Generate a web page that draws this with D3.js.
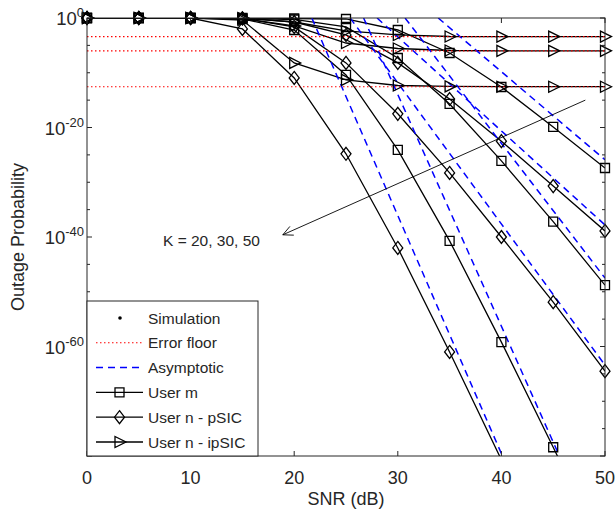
<!DOCTYPE html>
<html>
<head>
<meta charset="utf-8">
<script src="https://cdn.jsdelivr.net/npm/d3@7"></script>
<style>
body { margin: 0; background: #fff; }
text { font-family: "Liberation Sans", Arial, sans-serif; fill: #262626; }
</style>
</head>
<body>
<svg id="svg" width="616" height="517"></svg>
<script>
// SNR points (dB)
const snr = [0, 5, 10, 15, 20, 25, 30, 35, 40, 45, 50];

// log10 of outage probability (K = 20, 30, 50)
const userM_K20 = [0, 0, 0, 0, -0.09, -0.18, -2.19, -6.39, -12.6, -19.9, -27.4];
const userM_K30 = [0, 0, 0, -0.09, -0.27, -1.64, -7.31, -15.7, -26.1, -37.2, -48.8];
const userM_K50 = [0, 0, 0, -0.18, -2.19, -10.4, -24.1, -40.7, -59.2, -78.4, -98];
const pSIC_K20 = [0, 0, 0, -0.05, -0.73, -3.1, -8.2, -14.8, -22.5, -30.7, -38.9];
const pSIC_K30 = [0, 0, 0, -0.09, -1.64, -8.2, -17.5, -28.3, -40.0, -51.9, -64.5];
const pSIC_K50 = [0, 0, 0, -2.0, -10.95, -24.8, -42.0, -61.0, -80.7];
const ipSIC_K20 = [0, 0, 0, 0, -0.73, -2.37, -3.1, -3.38, -3.4, -3.4, -3.4];
const ipSIC_K30 = [0, 0, 0, -0.09, -1.46, -4.57, -5.57, -5.94, -6.0, -6.0, -6.0];
const ipSIC_K50 = [0, 0, 0, -0.37, -8.2, -11.3, -12.33, -12.5, -12.55, -12.55, -12.55];

// error floors (log10)
const floors = [-3.4, -6.0, -12.55];

// asymptotic lines, end points [snr, log10 P]
const asymM = [[[33.9, 0], [50, -25.9]], [[30.7, 0], [50, -47.5]], [[26.7, 0], [45.6, -80]]];
const asymP = [[[28.0, 0], [50, -37.8]], [[25.4, 0], [50, -63.4]], [[21.7, 0], [40.1, -80]]];

const xTicks = [0, 10, 20, 30, 40, 50];
const yTickExp = [0, -20, -40, -60];
const legendLabels = ["Simulation", "Error floor", "Asymptotic", "User m", "User n - pSIC", "User n - ipSIC"];

// arrow annotation (snr, log10 P)
const arrowFrom = [48.1, -15.0];
const arrowTo = [18.9, -39.6];
const annText = "K = 20, 30, 50";

let svg = d3.select("#svg");
const L = 87, T = 18, W = 518, H = 438;

let x = d3.scaleLinear().domain([0, 50]).range([L, L + W]);
let y = d3.scaleLog().domain([1e-80, 1]).range([T + H, T]);
const P = e => Math.pow(10, e);

svg.append("defs").append("clipPath").attr("id", "clip")
  .append("rect").attr("x", L).attr("y", T).attr("width", W).attr("height", H);

let plot = svg.append("g").attr("clip-path", "url(#clip)");

let line = d3.line().x(d => x(d[0])).y(d => y(P(d[1])));

// black curves
const curves = [
  { v: userM_K20, m: "square" }, { v: userM_K30, m: "square" }, { v: userM_K50, m: "square" },
  { v: pSIC_K20, m: "diamond" }, { v: pSIC_K30, m: "diamond" }, { v: pSIC_K50, m: "diamond" },
  { v: ipSIC_K20, m: "tri" }, { v: ipSIC_K30, m: "tri" }, { v: ipSIC_K50, m: "tri" }
];

curves.forEach(c => {
  let pts = c.v.map((e, i) => [snr[i], e]);
  plot.append("path").attr("d", line(pts)).attr("fill", "none")
    .attr("stroke", "#000").attr("stroke-width", 1.3);
});

// blue asymptotes
asymM.concat(asymP).forEach(a => {
  plot.append("path").attr("d", line(a)).attr("fill", "none")
    .attr("stroke", "#0000ff").attr("stroke-width", 1.5).attr("stroke-dasharray", "7,5");
});

// red error floors
floors.forEach(f => {
  plot.append("path").attr("d", line([[0, f], [50, f]])).attr("fill", "none")
    .attr("stroke", "#ff0000").attr("stroke-width", 1.1).attr("stroke-dasharray", "1.5,2.5");
});

function marker(g, type, cx, cy) {
  let p;
  if (type === "square") {
    p = `M${cx - 4.5},${cy - 4.5}h9v9h-9Z`;
  } else if (type === "diamond") {
    p = `M${cx},${cy - 6.5}L${cx + 5},${cy}L${cx},${cy + 6.5}L${cx - 5},${cy}Z`;
  } else {
    p = `M${cx - 4.5},${cy - 5.5}L${cx + 6.5},${cy}L${cx - 4.5},${cy + 5.5}Z`;
  }
  g.append("path").attr("d", p).attr("fill", "none").attr("stroke", "#000").attr("stroke-width", 1.3);
}

let mk = svg.append("g");
curves.forEach(c => {
  c.v.forEach((e, i) => {
    if (e >= -80) marker(mk, c.m, x(snr[i]), y(P(e)));
  });
});

// axes box and ticks
let ax = svg.append("g").attr("stroke", "#262626").attr("stroke-width", 1);
ax.append("rect").attr("x", L).attr("y", T).attr("width", W).attr("height", H).attr("fill", "none");
xTicks.forEach(t => {
  ax.append("line").attr("x1", x(t)).attr("x2", x(t)).attr("y1", T + H).attr("y2", T + H - 5);
  ax.append("line").attr("x1", x(t)).attr("x2", x(t)).attr("y1", T).attr("y2", T + 5);
});
for (let e = 0; e >= -80; e -= 5) {
  let len = (e % 20 === 0) ? 5 : 3;
  ax.append("line").attr("x1", L).attr("x2", L + len).attr("y1", y(P(e))).attr("y2", y(P(e)));
  ax.append("line").attr("x1", L + W).attr("x2", L + W - len).attr("y1", y(P(e))).attr("y2", y(P(e)));
}

// tick labels
xTicks.forEach(t => {
  svg.append("text").attr("x", x(t)).attr("y", 484).attr("text-anchor", "middle")
    .style("font-size", "18px").text(t);
});
yTickExp.forEach(e => {
  let tx = svg.append("text").attr("x", 84).attr("y", y(P(e)) + 7).attr("text-anchor", "end")
    .style("font-size", "18.5px");
  tx.append("tspan").text("10");
  tx.append("tspan").attr("dy", -8).style("font-size", "13px").text(e);
});

// axis labels
svg.append("text").attr("x", L + W / 2).attr("y", 505).attr("text-anchor", "middle")
  .style("font-size", "18px").text("SNR (dB)");
svg.append("text").attr("transform", `translate(24,${T + H / 2}) rotate(-90)`)
  .attr("text-anchor", "middle").style("font-size", "18px").text("Outage Probability");

// arrow annotation
let ar = svg.append("g").attr("stroke", "#000").attr("stroke-width", 0.9).attr("fill", "none");
let x1 = x(arrowFrom[0]), y1 = y(P(arrowFrom[1])), x2 = x(arrowTo[0]), y2 = y(P(arrowTo[1]));
ar.append("line").attr("x1", x1).attr("y1", y1).attr("x2", x2).attr("y2", y2);
let ang = Math.atan2(y1 - y2, x1 - x2);
[0.45, -0.45].forEach(da => {
  ar.append("line").attr("x1", x2).attr("y1", y2)
    .attr("x2", x2 + 11 * Math.cos(ang + da)).attr("y2", y2 + 11 * Math.sin(ang + da));
});
svg.append("text").attr("x", 163).attr("y", 246).style("font-size", "15.5px").text(annText);

// legend
let lg = svg.append("g");
lg.append("rect").attr("x", L).attr("y", 301).attr("width", 171).attr("height", T + H - 301)
  .attr("fill", "#fff").attr("stroke", "#262626").attr("stroke-width", 1);
legendLabels.forEach((lab, i) => {
  let cy = 318 + i * 24.8;
  if (i === 0) {
    lg.append("circle").attr("cx", 120).attr("cy", cy).attr("r", 1.8).attr("fill", "#000");
  } else {
    let s = lg.append("line").attr("x1", 96).attr("x2", 143).attr("y1", cy).attr("y2", cy).attr("fill", "none");
    if (i === 1) s.attr("stroke", "#ff0000").attr("stroke-width", 1.1).attr("stroke-dasharray", "1.5,2.5");
    else if (i === 2) s.attr("stroke", "#0000ff").attr("stroke-width", 1.5).attr("stroke-dasharray", "7,5");
    else s.attr("stroke", "#000").attr("stroke-width", 1.3);
    if (i >= 3) marker(lg, ["square", "diamond", "tri"][i - 3], 119.5, cy);
  }
  lg.append("text").attr("x", 148).attr("y", cy + 5.5).style("font-size", "15.5px").text(lab);
});
</script>
</body>
</html>
